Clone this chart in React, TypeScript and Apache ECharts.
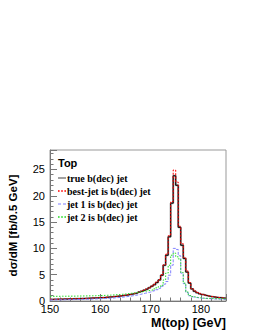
import React, { useEffect, useRef } from "react";
import * as echarts from "echarts";

// bin lower edges: 150 .. 184.5 GeV in 0.5 GeV steps
const binLow: number[] = Array.from({ length: 70 }, (_, i) => 150 + 0.5 * i);
const binHigh = 185;

const trueJet: number[] = [
  0.30, 0.31, 0.32, 0.34, 0.35, 0.36, 0.37, 0.39, 0.40, 0.42,
  0.43, 0.45, 0.47, 0.48, 0.50, 0.52, 0.55, 0.57, 0.59, 0.62,
  0.64, 0.67, 0.71, 0.75, 0.79, 0.84, 0.89, 0.95, 1.01, 1.08,
  1.15, 1.24, 1.33, 1.43, 1.55, 1.70, 1.85, 2.05, 2.25, 2.50,
  2.80, 3.10, 3.50, 4.00, 4.90, 6.80, 8.70, 12.2, 18.6, 23.8,
  22.0, 14.0, 10.6, 8.1, 5.5, 3.4, 2.3, 1.85, 1.58, 1.38,
  1.22, 1.09, 0.97, 0.88, 0.80, 0.73, 0.67, 0.62, 0.57, 0.52,
];

const bestJet: number[] = [
  0.33, 0.32, 0.34, 0.35, 0.36, 0.37, 0.38, 0.40, 0.41, 0.43,
  0.44, 0.46, 0.48, 0.49, 0.51, 0.53, 0.56, 0.58, 0.61, 0.63,
  0.66, 0.69, 0.73, 0.77, 0.81, 0.86, 0.91, 0.97, 1.04, 1.11,
  1.18, 1.27, 1.36, 1.47, 1.59, 1.74, 1.90, 2.10, 2.31, 2.56,
  2.86, 3.18, 3.58, 4.10, 5.00, 6.90, 8.90, 12.4, 18.9, 24.9,
  22.6, 14.2, 10.9, 8.3, 5.7, 3.5, 2.35, 1.9, 1.62, 1.42,
  1.26, 1.12, 1.00, 0.90, 0.82, 0.75, 0.69, 0.63, 0.58, 0.54,
];

const jet1: number[] = [
  0.20, 0.21, 0.22, 0.22, 0.23, 0.24, 0.25, 0.26, 0.27, 0.28,
  0.29, 0.30, 0.31, 0.33, 0.34, 0.35, 0.37, 0.39, 0.41, 0.43,
  0.45, 0.47, 0.50, 0.53, 0.56, 0.60, 0.64, 0.68, 0.73, 0.79,
  0.85, 0.92, 0.99, 1.07, 1.16, 1.26, 1.37, 1.48, 1.60, 1.70,
  1.80, 1.95, 2.15, 2.40, 2.80, 3.20, 3.70, 4.90, 6.80, 10.0,
  9.8, 8.6, 5.3, 3.3, 1.6, 1.0, 0.80, 0.70, 0.62, 0.56,
  0.52, 0.48, 0.45, 0.42, 0.40, 0.38, 0.36, 0.34, 0.32, 0.31,
];

const jet2: number[] = [
  0.90, 0.88, 0.90, 0.89, 0.91, 0.90, 0.92, 0.91, 0.93, 0.92,
  0.94, 0.95, 0.95, 0.96, 0.97, 0.98, 0.99, 1.00, 1.02, 1.03,
  1.05, 1.07, 1.09, 1.11, 1.14, 1.17, 1.20, 1.24, 1.28, 1.33,
  1.38, 1.44, 1.50, 1.56, 1.62, 1.70, 1.78, 1.86, 1.94, 2.02,
  2.10, 2.30, 2.50, 2.70, 3.00, 4.00, 5.30, 6.80, 8.70, 9.1,
  8.4, 8.0, 5.4, 3.4, 1.7, 1.05, 0.85, 0.75, 0.66, 0.60,
  0.55, 0.52, 0.50, 0.48, 0.46, 0.45, 0.44, 0.43, 0.42, 0.41,
];

const xTicks = { min: 150, max: 185, interval: 10 };
const yTicks = { min: 0, max: 28.7, interval: 5 };

const names = [
  "true b(dec) jet",
  "best-jet is b(dec) jet",
  "jet 1 is b(dec) jet",
  "jet 2 is b(dec) jet",
];
const xTitle = "M(top) [GeV]";
const yTitle = "dσ/dM [fb/0.5 GeV]";

const ICON_SOLID = "path://M0 4h8v1.6H0z";
const ICON_DOT = "path://M0 4h1.5v1.2H0zM3 4h1.5v1.2H3zM6 4h1.5v1.2H6z";
const ICON_DASH = "path://M0 4h3v1.2H0zM5 4h3v1.2H5z";

function toSteps(vals: number[]): [number, number][] {
  const pts: [number, number][] = binLow.map((x, i) => [x, vals[i]]);
  pts.push([binHigh, vals[vals.length - 1]]);
  return pts;
}

export default function App() {
  const ref = useRef<HTMLDivElement>(null);
  useEffect(() => {
    if (!ref.current) return;
    const chart = echarts.init(ref.current, undefined, { renderer: "svg" });
    const sans = "Liberation Sans";
    const serif = "Liberation Serif";
    const axisCommon = {
      axisLine: { show: true, lineStyle: { color: "#777", width: 1 } },
      axisTick: { show: true, inside: true, length: 7, lineStyle: { color: "#777" } },
      minorTick: { show: true, splitNumber: 5, length: 3.5, lineStyle: { color: "#777" } },
      splitLine: { show: false },
      minorSplitLine: { show: false },
    };
    const mk = (name: string | undefined, vals: number[], color: string, width: number, type: any, z: number) => ({
      type: "line",
      name,
      data: toSteps(vals),
      step: "end",
      symbol: "none",
      silent: true,
      z,
      lineStyle: { color, width, type },
      itemStyle: { color },
    });
    chart.setOption({
      animation: false,
      backgroundColor: "#fff",
      title: {
        text: "Top",
        left: 58,
        top: 157,
        padding: 0,
        textStyle: { fontFamily: sans, fontWeight: "bold", fontSize: 11, color: "#000" },
      },
      legend: {
        data: [
          { name: names[0], icon: ICON_SOLID, itemStyle: { color: "#8a8a8a" } },
          { name: names[1], icon: ICON_DOT, itemStyle: { color: "#ff0000" } },
          { name: names[2], icon: ICON_DASH, itemStyle: { color: "#8080ff" } },
          { name: names[3], icon: ICON_DOT, itemStyle: { color: "#22dd22" } },
        ],
        orient: "vertical",
        left: 58,
        top: 173,
        padding: 0,
        itemWidth: 8,
        itemHeight: 10,
        itemGap: 3,
        textStyle: { fontFamily: serif, fontWeight: "bold", fontSize: 10, color: "#000", padding: [0, 0, 0, -4] },
      },
      graphic: [
        {
          type: "text",
          right: 29,
          top: 316,
          style: {
            text: xTitle,
            fontFamily: sans,
            fontWeight: "bold",
            fontSize: 12.5,
            fill: "#000",
          },
        },
      ],
      grid: {
        left: 50,
        right: 29,
        top: 150,
        bottom: 29,
        containLabel: false,
        outerBoundsMode: "none",
        show: true,
        borderColor: "#999",
        borderWidth: 1,
      },
      xAxis: {
        type: "value",
        min: xTicks.min,
        max: xTicks.max,
        interval: xTicks.interval,
        axisLabel: {
          fontFamily: sans,
          fontSize: 11,
          color: "#000",
          margin: 2,
          showMaxLabel: false,
        },
        ...axisCommon,
      },
      yAxis: {
        type: "value",
        min: yTicks.min,
        max: yTicks.max,
        interval: yTicks.interval,
        name: yTitle,
        nameLocation: "middle",
        nameRotate: 90,
        nameGap: 31,
        nameTextStyle: { fontFamily: sans, fontWeight: "bold", fontSize: 11.5, color: "#000" },
        axisLabel: {
          fontFamily: sans,
          fontSize: 11,
          color: "#000",
          margin: 5,
          showMaxLabel: false,
        },
        ...axisCommon,
      },
      series: [
        mk(names[0], trueJet, "#9a9a9a", 2, "solid", 2),
        mk(undefined, trueJet, "#000", 1, "solid", 3),
        mk(names[1], bestJet, "#ff0000", 1, [2, 1.5], 4),
        mk(names[2], jet1, "#8080ff", 1, [3, 1.5], 5),
        mk(names[3], jet2, "#22dd22", 1, [1.5, 1.5], 6),
      ],
    });
    return () => chart.dispose();
  }, []);
  return (
    <div
      ref={ref}
      style={{ position: "fixed", left: 0, top: 0, width: 255, height: 330 }}
    />
  );
}
